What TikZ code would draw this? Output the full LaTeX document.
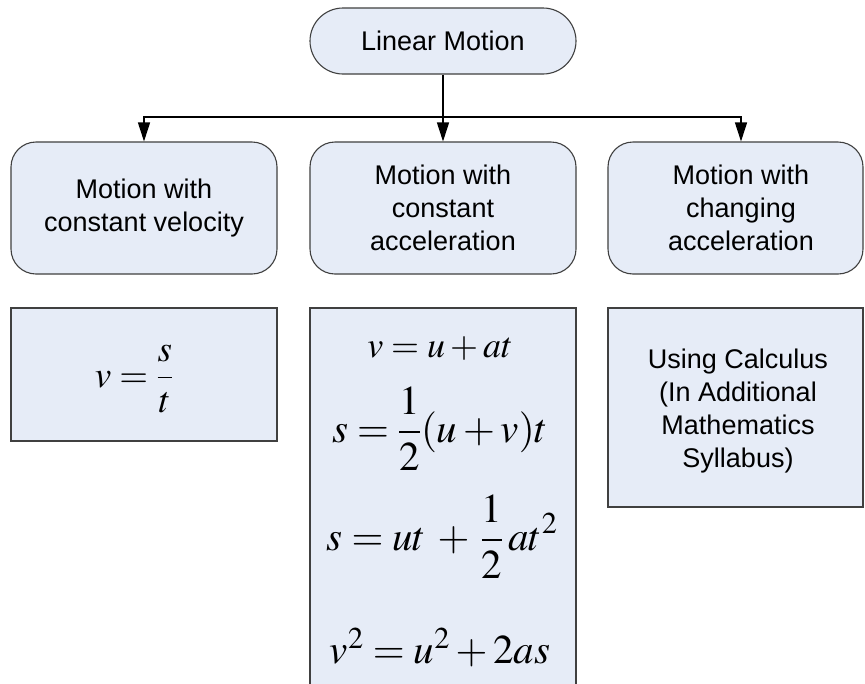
\documentclass[tikz,border=0pt]{standalone}
\usepackage{mathptmx}
\usepackage[no-math]{fontspec}
\setmainfont{Liberation Sans}
\usetikzlibrary{arrows.meta}
\definecolor{boxfill}{RGB}{230,236,247}
\definecolor{boxline}{RGB}{64,64,64}
\tikzset{
  basebox/.style={draw=boxline, fill=boxfill, line width=1.1pt, inner sep=0pt, align=center,
    font=\fontsize{27}{33}\selectfont},
  roundbox/.style={basebox, rounded corners=25pt},
  label3/.style={inner sep=0pt, align=center, font=\fontsize{27}{33}\selectfont},
  formula/.style={inner sep=0pt, anchor=base},
  conn/.style={draw=black, line width=1.2pt, -{Triangle[length=19pt,width=12pt]}}
}
\begin{document}
\begin{tikzpicture}[x=1pt,y=-1pt]
\clip (0,0) rectangle (865,683);
\fill[white] (0,0) rectangle (865,683);

\node[basebox, rounded corners=33pt, minimum width=266pt, minimum height=66pt] (top) at (443,41) {Linear Motion};

\node[roundbox, minimum width=266pt, minimum height=132pt] (b1) at (144,208) {Motion with\\constant velocity};
\node[roundbox, minimum width=266pt, minimum height=132pt] (b2) at (443,208) {Motion with\\constant\\acceleration};
\node[roundbox, minimum width=255pt, minimum height=132pt] (b3) at (735.5,208) {};
\node[label3] (b3t) at (741,208) {Motion with\\changing\\acceleration};

\coordinate (bus) at (443,117);
\draw[conn] (top.south) -- (b2.north);
\draw[conn] (bus) -| (b1.north);
\draw[conn] (bus) -| (b3t.north |- b3.north);

\node[basebox, minimum width=266pt, minimum height=133pt] (f1) at (144,374.5) {};
\node[formula, font=\fontsize{37}{44}\selectfont] (eqv) at (134,387) {$v=\displaystyle\frac{s}{t}$};

\node[basebox, minimum width=266pt, minimum height=412pt] (f2) at (443,514) {};
\node[formula, font=\fontsize{36}{40}\selectfont] (eq1) at (440,357) {$v=u+at$};
\node[formula, font=\fontsize{41}{48}\selectfont] (eq2) at (440,442) {$s=\displaystyle\frac{1}{2}(u+v)t$};
\node[formula, font=\fontsize{41}{48}\selectfont] (eq3) at (442,550) {$\medmuskip=5mu s=ut+\displaystyle\frac{1}{2}\,at^{2}$};
\node[formula, font=\fontsize{41}{48}\selectfont] (eq4) at (440,663) {$v^{2}=u^{2}+2as$};

\node[basebox, minimum width=255pt, minimum height=199pt] (f3) at (735.5,407.5) {};
\node[label3] (f3t) at (738,411) {Using Calculus\\(In Additional\\Mathematics\\Syllabus)};
\end{tikzpicture}
\end{document}
